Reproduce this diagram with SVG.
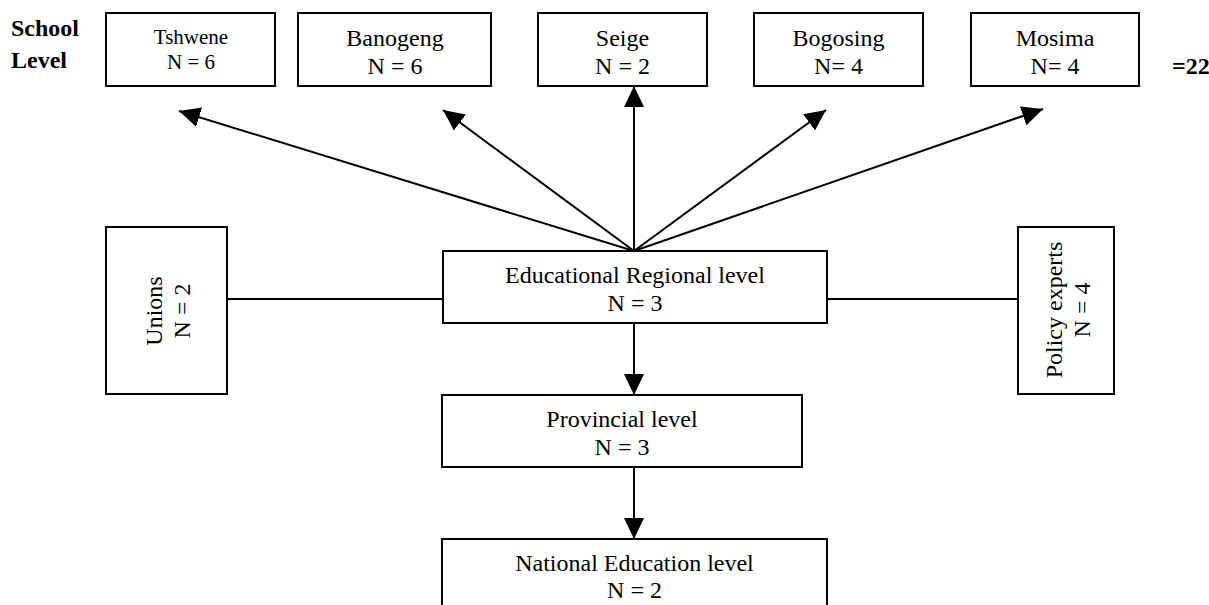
<svg xmlns="http://www.w3.org/2000/svg" width="1209" height="605" viewBox="0 0 1209 605">
<style>
.box{fill:#fff;stroke:#000;stroke-width:2}
.t{font-family:"Liberation Serif","Times New Roman",serif;font-size:24px;fill:#000;text-anchor:middle}
.s{font-size:21px}
.b{font-family:"Liberation Serif","Times New Roman",serif;font-size:24px;font-weight:bold;fill:#000}
.ln{stroke:#000;stroke-width:2;fill:none}
.ar{marker-end:url(#ah)}
</style>
<defs>
<marker id="ah" markerUnits="userSpaceOnUse" markerWidth="22" markerHeight="20" refX="21" refY="10" orient="auto" viewBox="0 0 22 20">
<path d="M0,0 L21,10 L0,20 z" fill="#000"/>
</marker>
</defs>
<rect width="1209" height="605" fill="#fff"/>
<text class="b" x="11" y="36">School</text>
<text class="b" x="11" y="68">Level</text>
<text class="b" x="1172" y="74">=22</text>
<g id="connectors">
<line class="ln ar" x1="634" y1="251" x2="179" y2="111"/>
<line class="ln ar" x1="634" y1="251" x2="443" y2="110"/>
<line class="ln ar" x1="634" y1="251" x2="634" y2="86"/>
<line class="ln ar" x1="634" y1="251" x2="826" y2="110"/>
<line class="ln ar" x1="634" y1="251" x2="1043" y2="109"/>
<line class="ln" x1="227" y1="299" x2="443" y2="299"/>
<line class="ln" x1="827" y1="299" x2="1018" y2="299"/>
<line class="ln ar" x1="634" y1="323" x2="634" y2="395"/>
<line class="ln ar" x1="634" y1="467" x2="634" y2="539"/>
</g>
<g id="tshwene">
<rect class="box" x="106" y="13" width="169" height="73"/>
<text class="t s" x="191" y="44">Tshwene</text>
<text class="t s" x="191" y="69">N = 6</text>
</g>
<g id="banogeng">
<rect class="box" x="298" y="13" width="193" height="73"/>
<text class="t" x="395" y="46">Banogeng</text>
<text class="t" x="395" y="74">N = 6</text>
</g>
<g id="seige">
<rect class="box" x="538" y="13" width="169" height="73"/>
<text class="t" x="622.5" y="46">Seige</text>
<text class="t" x="622.5" y="74">N = 2</text>
</g>
<g id="bogosing">
<rect class="box" x="754" y="13" width="169" height="73"/>
<text class="t" x="838.5" y="46">Bogosing</text>
<text class="t" x="838.5" y="74">N= 4</text>
</g>
<g id="mosima">
<rect class="box" x="971" y="13" width="168" height="73"/>
<text class="t" x="1055" y="46">Mosima</text>
<text class="t" x="1055" y="74">N= 4</text>
</g>
<g id="unions">
<rect class="box" x="106" y="227" width="121" height="167"/>
<g transform="translate(166,311) rotate(-90)">
<text class="t" x="0" y="-4">Unions</text>
<text class="t" x="0" y="24">N = 2</text>
</g>
</g>
<g id="regional">
<rect class="box" x="443" y="251" width="384" height="72"/>
<text class="t" x="635" y="283">Educational Regional level</text>
<text class="t" x="635" y="311">N = 3</text>
</g>
<g id="policy">
<rect class="box" x="1018" y="227" width="96" height="167"/>
<g transform="translate(1066,310) rotate(-90)">
<text class="t" x="0" y="-4">Policy experts</text>
<text class="t" x="0" y="24">N = 4</text>
</g>
</g>
<g id="provincial">
<rect class="box" x="442" y="395" width="360" height="72"/>
<text class="t" x="622" y="427">Provincial level</text>
<text class="t" x="622" y="455">N = 3</text>
</g>
<g id="national">
<rect class="box" x="442" y="539" width="385" height="80"/>
<text class="t" x="634.5" y="571">National Education level</text>
<text class="t" x="634.5" y="598">N = 2</text>
</g>
</svg>
